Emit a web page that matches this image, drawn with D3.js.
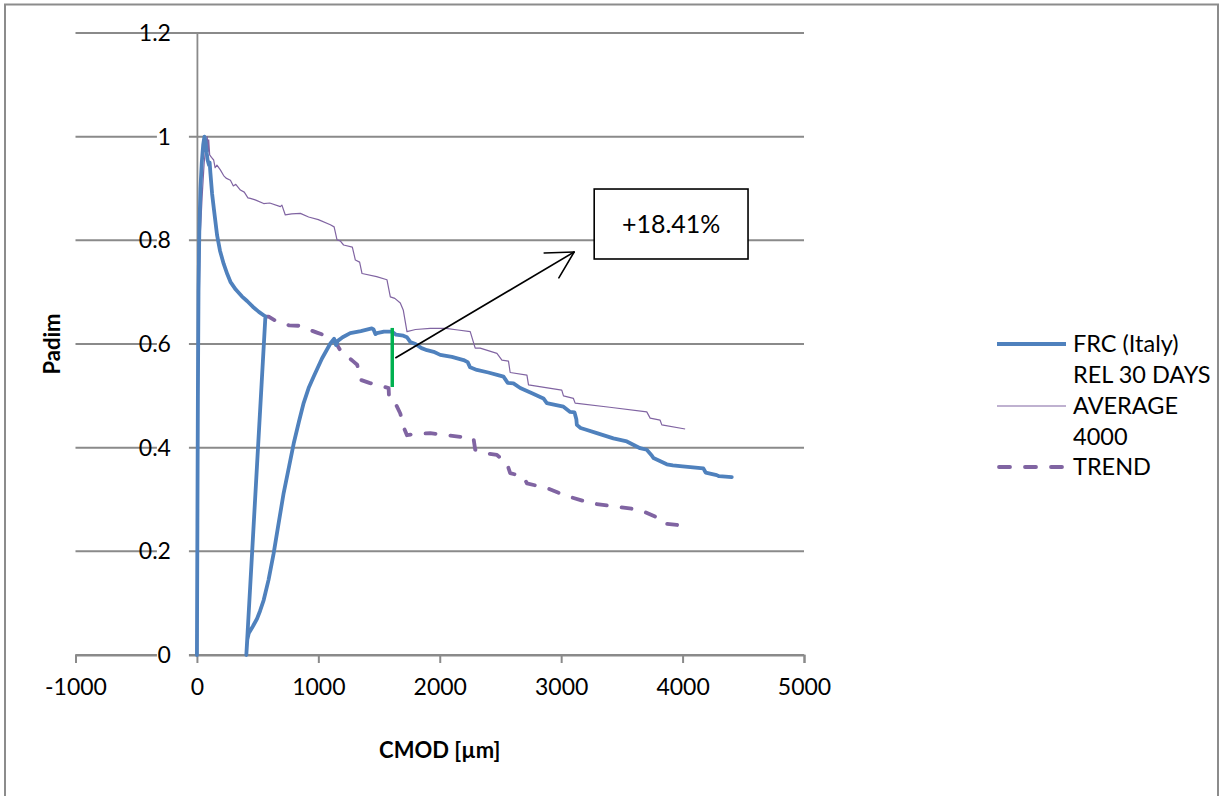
<!DOCTYPE html>
<html>
<head>
<meta charset="utf-8">
<script src="https://cdn.jsdelivr.net/npm/d3@7"></script>
<style>
  html, body { margin: 0; padding: 0; background: #ffffff; }
  svg { display: block; font-family: Lato, "Noto Sans", sans-serif; }
</style>
</head>
<body>
<svg id="chart" width="1223" height="796"></svg>
<script>
// Axis ticks
const xTicks = [-1000, 0, 1000, 2000, 3000, 4000, 5000];
const yTicks = [0, 0.2, 0.4, 0.6, 0.8, 1, 1.2];

// Legend entries
const seriesNames = ["FRC (Italy)", "REL 30 DAYS AVERAGE 4000", "TREND"];

// FRC (Italy): loading, unloading and reloading curve [CMOD µm, Padim]
const frcPoints = [
  [0,0],[4,0.25],[8,0.5],[13,0.7],[20,0.82],[29,0.90],[40,0.95],[52,0.985],[62,1.0],[72,0.99],
  [80,0.97],[88,0.955],[100,0.945],[105,0.95],[111,0.93],[125,0.89],[140,0.86],[166,0.81],[190,0.78],
  [220,0.755],[250,0.735],[276,0.72],[320,0.705],[370,0.692],[413,0.683],[460,0.672],[510,0.662],[564,0.653],
  [407,0],[415,0.03],[427,0.042],[460,0.055],[495,0.07],[520,0.085],[550,0.106],[590,0.145],[632,0.196],
  [670,0.25],[714,0.312],[760,0.365],[797,0.408],[840,0.45],[879,0.486],[920,0.515],[961,0.537],[1030,0.572],
  [1099,0.601],[1130,0.61],[1145,0.598],[1160,0.606],[1200,0.613],[1263,0.621],[1350,0.625],[1440,0.63],
  [1455,0.628],[1470,0.619],[1483,0.621],[1540,0.624],[1606,0.624],[1640,0.618],[1700,0.616],[1730,0.613],
  [1757,0.604],[1800,0.6],[1850,0.592],[1895,0.588],[1950,0.585],[2004,0.579],[2100,0.575],[2196,0.569],
  [2230,0.565],[2250,0.555],[2306,0.550],[2400,0.545],[2480,0.54],[2525,0.537],[2560,0.525],[2607,0.524],
  [2663,0.515],[2760,0.505],[2854,0.495],[2882,0.486],[2940,0.483],[3019,0.479],[3074,0.469],[3110,0.468],
  [3125,0.455],[3129,0.444],[3160,0.438],[3200,0.435],[3294,0.428],[3430,0.418],[3541,0.412],[3650,0.399],
  [3705,0.396],[3746,0.385],[3760,0.38],[3870,0.368],[3920,0.366],[4000,0.364],[4171,0.36],[4190,0.352],
  [4281,0.347],[4300,0.345],[4405,0.343]
];

// REL 30 DAYS AVERAGE 4000
const relPoints = [
  [0,0],[6,0.3],[15,0.6],[25,0.8],[43,0.884],[60,0.95],[75,0.985],[85,1.0],[92,0.97],[97,0.994],
  [105,0.965],[120,0.96],[138,0.955],[150,0.94],[165,0.945],[193,0.936],[220,0.925],[240,0.92],[276,0.916],
  [300,0.905],[320,0.908],[358,0.897],[390,0.893],[420,0.882],[440,0.881],[480,0.878],[550,0.871],[600,0.872],
  [687,0.865],[700,0.868],[728,0.849],[780,0.851],[852,0.852],[920,0.845],[1000,0.84],[1099,0.83],[1130,0.826],
  [1154,0.801],[1180,0.799],[1208,0.791],[1280,0.787],[1305,0.762],[1340,0.758],[1360,0.736],[1480,0.73],
  [1565,0.724],[1593,0.691],[1630,0.688],[1675,0.679],[1700,0.665],[1730,0.624],[1800,0.628],[1922,0.630],
  [2050,0.630],[2150,0.627],[2251,0.624],[2292,0.592],[2333,0.592],[2471,0.582],[2512,0.569],[2566,0.567],
  [2580,0.545],[2718,0.540],[2731,0.521],[2900,0.515],[3005,0.511],[3019,0.500],[3101,0.495],[3115,0.486],
  [3400,0.478],[3705,0.469],[3733,0.457],[3815,0.453],[3829,0.444],[4021,0.436]
];

// TREND
const trendPoints = [
  [564,0.653],[591,0.653],[640,0.646],[687,0.640],[760,0.636],[852,0.635],[920,0.628],[989,0.622],
  [1060,0.616],[1126,0.611],[1150,0.60],[1181,0.588],[1230,0.578],[1290,0.566],[1320,0.56],[1346,0.531],
  [1420,0.525],[1483,0.521],[1579,0.515],[1583,0.492],[1640,0.483],[1675,0.466],[1702,0.440],[1730,0.424],
  [1800,0.427],[1922,0.428],[2050,0.424],[2169,0.421],[2278,0.418],[2292,0.396],[2382,0.389],[2471,0.386],
  [2553,0.370],[2580,0.351],[2690,0.344],[2718,0.331],[2882,0.322],[3019,0.309],[3239,0.293],[3458,0.286],
  [3650,0.280],[3774,0.267],[3829,0.254],[3952,0.251],[4021,0.248]
];

// Gain marker, arrow and label (data coordinates)
const gainMarker = { x: 1609, y0: 0.517, y1: 0.631 };
const gainArrow = { x0: 1634, y0: 0.573, x1: 3107, y1: 0.7775 };
const gainBox = { x0: 3272, x1: 4539, y0: 0.764, y1: 0.899, text: "+18.41%" };

const svg = d3.select("#chart");

const x = d3.scaleLinear().domain([-1000, 5000]).range([75.5, 804]);
const y = d3.scaleLinear().domain([0, 1.2]).range([655, 33]);

const gridColor = "#8a8a8a";
const blue = "#4F81BD";
const purple = "#8064A2";

// Outer chart frame
svg.append("rect")
  .attr("x", 5).attr("y", 4.5).attr("width", 1213).attr("height", 820)
  .attr("fill", "none").attr("stroke", "#8c8c8c").attr("stroke-width", 2);

// Horizontal gridlines
svg.append("g").selectAll("line").data(yTicks).join("line")
  .attr("x1", x(-1000)).attr("x2", x(5000))
  .attr("y1", d => y(d)).attr("y2", d => y(d))
  .attr("stroke", gridColor).attr("stroke-width", 2);

// X axis along Padim = 0
const xAxis = svg.append("g").attr("transform", `translate(0,${y(0)})`)
  .call(d3.axisBottom(x).tickValues(xTicks).tickSize(8).tickPadding(16).tickFormat(d => String(d)));
xAxis.select(".domain").attr("stroke", gridColor).attr("stroke-width", 2);
xAxis.selectAll(".tick line").attr("stroke", gridColor).attr("stroke-width", 2);
xAxis.selectAll(".tick text").attr("font-size", 23).attr("fill", "#000").attr("font-family", "Lato");

// Y axis crossing at CMOD = 0
const yAxis = svg.append("g").attr("transform", `translate(${x(0)},0)`)
  .call(d3.axisLeft(y).tickValues(yTicks).tickSize(0).tickPadding(26).tickFormat(d => String(d)));
yAxis.select(".domain").attr("stroke", gridColor).attr("stroke-width", 1.8);
yAxis.selectAll(".tick").each(function(d) {
  const t = d3.select(this);
  if (d < 1.2) {
    t.insert("rect", "text")
      .attr("x", -40).attr("y", -6).attr("width", 32).attr("height", 12)
      .attr("fill", "#fff");
  }
});
yAxis.selectAll(".tick text").attr("font-size", 23).attr("fill", "#000").attr("font-family", "Lato");

// Axis titles
svg.append("text")
  .attr("x", (x(-1000) + x(5000)) / 2).attr("y", 758)
  .attr("text-anchor", "middle").attr("font-size", 22).attr("font-weight", "bold")
  .text("CMOD [µm]");
svg.append("text")
  .attr("transform", `translate(60,${y(0.6)}) rotate(-90)`)
  .attr("text-anchor", "middle").attr("font-size", 22).attr("font-weight", "bold")
  .text("Padim");

const line = d3.line().x(d => x(d[0])).y(d => y(d[1]));

// Series
svg.append("path").datum(relPoints).attr("d", line)
  .attr("fill", "none").attr("stroke", purple).attr("stroke-width", 1.2).attr("stroke-linejoin", "round");

svg.append("path").datum(trendPoints).attr("d", line)
  .attr("fill", "none").attr("stroke", purple).attr("stroke-width", 3.8)
  .attr("stroke-dasharray", "10,15").attr("stroke-linecap", "round").attr("stroke-linejoin", "round");

svg.append("path").datum(frcPoints).attr("d", line)
  .attr("fill", "none").attr("stroke", blue).attr("stroke-width", 3.8)
  .attr("stroke-linejoin", "round").attr("stroke-linecap", "round");

// Gain marker
svg.append("line")
  .attr("x1", x(gainMarker.x)).attr("x2", x(gainMarker.x))
  .attr("y1", y(gainMarker.y0)).attr("y2", y(gainMarker.y1))
  .attr("stroke", "#00B050").attr("stroke-width", 3.5);

// Arrow with open head
const ax0 = x(gainArrow.x0), ay0 = y(gainArrow.y0), ax1 = x(gainArrow.x1), ay1 = y(gainArrow.y1);
svg.append("line").attr("x1", ax0).attr("y1", ay0).attr("x2", ax1).attr("y2", ay1)
  .attr("stroke", "#000").attr("stroke-width", 1.6);
const ang = Math.atan2(ay1 - ay0, ax1 - ax0);
const headLen = 30, spread = 0.5;
[ang + Math.PI - spread, ang + Math.PI + spread].forEach(a => {
  svg.append("line")
    .attr("x1", ax1).attr("y1", ay1)
    .attr("x2", ax1 + headLen * Math.cos(a)).attr("y2", ay1 + headLen * Math.sin(a))
    .attr("stroke", "#000").attr("stroke-width", 1.6).attr("stroke-linecap", "round");
});

// Label box
svg.append("rect")
  .attr("x", x(gainBox.x0)).attr("y", y(gainBox.y1))
  .attr("width", x(gainBox.x1) - x(gainBox.x0)).attr("height", y(gainBox.y0) - y(gainBox.y1))
  .attr("fill", "#fff").attr("stroke", "#000").attr("stroke-width", 1.6);
svg.append("text")
  .attr("x", (x(gainBox.x0) + x(gainBox.x1)) / 2).attr("y", (y(gainBox.y0) + y(gainBox.y1)) / 2)
  .attr("dy", "0.35em").attr("text-anchor", "middle").attr("font-size", 25)
  .text(gainBox.text);

// Legend
const legend = svg.append("g").attr("font-size", 23.5);
const lx0 = 997, lx1 = 1066, tx = 1073;
legend.append("line").attr("x1", lx0).attr("x2", lx1).attr("y1", 344).attr("y2", 344)
  .attr("stroke", blue).attr("stroke-width", 3.8);
legend.append("text").attr("x", tx).attr("y", 344).attr("dy", "0.35em").text(seriesNames[0]);

legend.append("line").attr("x1", lx0).attr("x2", lx1).attr("y1", 406).attr("y2", 406)
  .attr("stroke", purple).attr("stroke-width", 1.2);
const relWords = seriesNames[1].split(" ");
[relWords.slice(0, 3).join(" "), relWords[3], relWords[4]].forEach((s, i) => {
  legend.append("text").attr("x", tx).attr("y", 375 + i * 31).attr("dy", "0.35em").text(s);
});

legend.append("line").attr("x1", lx0 + 2).attr("x2", lx1).attr("y1", 467).attr("y2", 467)
  .attr("stroke", purple).attr("stroke-width", 3.8)
  .attr("stroke-dasharray", "11,15").attr("stroke-linecap", "round");
legend.append("text").attr("x", tx).attr("y", 467).attr("dy", "0.35em").text(seriesNames[2]);
</script>
</body>
</html>
